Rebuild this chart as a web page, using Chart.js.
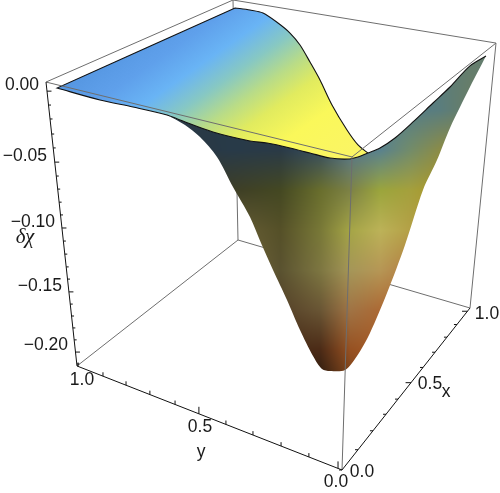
<!DOCTYPE html>
<html><head><meta charset="utf-8">
<style>html,body{margin:0;padding:0;background:#fff}canvas{display:block}</style>
<script src="https://cdn.jsdelivr.net/npm/chart.js@4"></script>
</head><body>
<canvas id="c" width="500" height="493"></canvas>
<script>
// Values. h = horizontal view position (0..1 across the box view), z = delta chi.
const backEdgeH = [.114,.470,.500,.526,.556,.580,.600,.620,.640,.664,.694,.716,.736];
const backEdgeZ = [-.0008,.0608,.0592,.0569,.0492,.0415,.0323,.0192,.0054,-.0138,-.0331,-.0446,-.0508];
const frontEdgeH = [.736,.716,.696,.660,.620,.580,.534,.500,.426,.360,.334,.266,.200,.114];
const frontEdgeZ = [-.0508,-.0538,-.0554,-.0546,-.0508,-.0469,-.0431,-.0415,-.0346,-.0254,-.0215,-.0154,-.01,-.0008];
const wingEdgeH = [.972,.94,.90,.866,.826,.79,.76,.736];
const wingEdgeZ = [.0238,.0162,0,-.0123,-.0269,-.0392,-.0469,-.0508];
const valleyLeftH = [.334,.37,.40,.434,.466,.50,.522,.546,.574,.60,.626,.644,.66,.69];
const valleyLeftZ = [-.0215,-.0292,-.0385,-.0538,-.0769,-.1,-.12,-.1408,-.1638,-.1869,-.2069,-.2169,-.2185,-.2177];
const valleyRightH = [.714,.74,.774,.81,.846,.874,.90,.94,.972];
const valleyRightZ = [-.2069,-.1892,-.1585,-.1215,-.0792,-.0562,-.0315,0,.0238];
// box corners: left/back/right/front, top/bottom
const cornerNames = ['LT','BT','RT','FT','LB','BB','RB','FB'];
const cornerH = [.092,.466,.992,.704,.154,.476,.94,.684];
const cornerZ = [.0038,.0669,.0338,-.0538,-.2146,-.1177,-.17,-.2946];
// tick fractions along the axes
const zTickFractions = [.032,.081,.130,.183,.232,.282,.331,.377,.423,.468,.514,.560,.606,.651,.694,.739,.782,.824,.866,.908,.951,.993];
const zMajorTicks = [.032,.282,.514,.739,.951];
const yTickFractions = [.004,.098,.185,.275,.37,.46,.562,.664,.77,.875,.985];
const yMajorTicks = [.46,.985];
const xTickFractions = [0,.125,.242,.344,.4375,.539,.633,.727,.82,.898,.98];
const xMajorTicks = [.539,.98];
const zTickLabels = ['0.00','\u22120.05','\u22120.10','\u22120.15','\u22120.20'];
const yTickLabels = ['1.0','0.5','0.0'];
const xTickLabels = ['0.0','0.5','1.0'];
const axisTitles = ['y','x','\u03b4\u03c7'];

const W=500,H=493;
const canvas=document.getElementById('c'),ctx=canvas.getContext('2d');
const xy=(hs,zs)=>hs.map((h,i)=>({x:h,y:zs[i]}));
const c=n=>{const i=cornerNames.indexOf(n);return {x:cornerH[i],y:cornerZ[i]}};
const gap={x:NaN,y:NaN};
const segs=list=>{const o=[];list.forEach(s=>{o.push(c(s[0]),c(s[1]),gap)});return o};
function ticks(a,b,fr,maj,dh,dz){const A=c(a),B=c(b),o=[];fr.forEach(f=>{const k=maj.includes(f)?1.8:1,p={x:A.x+(B.x-A.x)*f,y:A.y+(B.y-A.y)*f};
 o.push(p,{x:p.x+dh*k,y:p.y+dz*k},gap)});return o}

// shading of the sheets
const topGrad=ctx.createLinearGradient(60,86,188,268.5);
[[0,'rgb(85,150,225)'],[.154,'rgb(95,160,235)'],[.283,'rgb(105,180,245)'],[.404,'rgb(135,200,195)'],[.522,'rgb(185,220,135)'],[.632,'rgb(225,235,95)'],[.78,'rgb(250,248,90)'],[1,'rgb(250,245,100)']].forEach(s=>topGrad.addColorStop(s[0],s[1]));
const shadeCols=[180,230,280,320,350,380,410,440,470,500];
const shadeRows=[60,110,150,190,230,270,310,350,375];
const shade=[
[[40,58,72],[40,58,72],[40,58,72],[55,75,95],[85,125,145],[85,125,145],[88,128,140],[92,125,120],[100,125,110],[100,125,110]],
[[40,58,72],[40,58,72],[40,58,72],[55,75,95],[85,110,130],[85,130,150],[85,125,135],[90,125,125],[105,125,100],[105,125,100]],
[[42,55,65],[40,58,72],[42,58,70],[55,78,95],[85,118,138],[90,130,140],[115,140,105],[140,140,70],[140,140,70],[140,140,70]],
[[60,60,40],[62,62,38],[68,72,34],[105,110,45],[125,130,70],[155,165,60],[165,160,60],[170,150,40],[170,150,40],[170,150,40]],
[[100,90,50],[105,95,55],[85,80,40],[120,120,55],[165,165,70],[188,178,88],[180,160,70],[185,150,60],[185,150,60],[185,150,60]],
[[125,110,60],[125,110,60],[90,82,48],[125,118,65],[165,150,88],[182,150,85],[180,125,65],[180,125,65],[180,125,65],[180,125,65]],
[[85,65,40],[85,65,40],[85,65,40],[105,85,52],[160,115,68],[172,105,52],[172,105,52],[172,105,52],[172,105,52],[172,105,52]],
[[70,42,22],[70,42,22],[70,42,22],[75,42,22],[150,80,33],[165,90,38],[165,90,38],[165,90,38],[165,90,38],[165,90,38]],
[[50,30,16],[50,30,16],[50,30,16],[50,30,16],[125,68,28],[160,85,35],[160,85,35],[160,85,35],[160,85,35],[160,85,35]]];
function idx(a,v){let i=0;while(i<a.length-2&&v>a[i+1])i++;const t=Math.max(0,Math.min(1,(v-a[i])/(a[i+1]-a[i])));return [i,t]}
const off=document.createElement('canvas');off.width=W;off.height=H;const oc=off.getContext('2d');
const im=oc.createImageData(W,H);
for(let y=0;y<H;y++){const [r,tr]=idx(shadeRows,y);for(let x=0;x<W;x++){const [q,tq]=idx(shadeCols,x),p=(y*W+x)*4;
 for(let k=0;k<3;k++){const a=shade[r][q][k]*(1-tq)+shade[r][q+1][k]*tq,b=shade[r+1][q][k]*(1-tq)+shade[r+1][q+1][k]*tq;im.data[p+k]=a*(1-tr)+b*tr}
 im.data[p+3]=255}}
oc.putImageData(im,0,0);
const frontPattern=ctx.createPattern(off,'no-repeat');

// a repeated vertex keeps a sharp corner when the edges are drawn with line tension
const back=xy(backEdgeH,backEdgeZ);back.splice(1,0,back[1]);
const front=xy(frontEdgeH,frontEdgeZ),wing=xy(wingEdgeH,wingEdgeZ);
const topSheet=[...back,...front];
const frontSheet=[...wing,...front.filter(p=>p.x>=.334),...xy(valleyLeftH,valleyLeftZ),...xy(valleyRightH,valleyRightZ)];
const rim=[...wing,...front,...back];
const gray='#6e6e6e',ink='#111',smooth=.3;
const ds=(label,data,o)=>Object.assign({label,data,showLine:true,pointRadius:0,borderWidth:1,borderColor:gray,fill:false,tension:0,clip:false,spanGaps:false},o);

const textMarks=[
 [zTickLabels[0],39,85,'right'],[zTickLabels[1],47,156,'right'],[zTickLabels[2],55,222,'right'],[zTickLabels[3],62,286,'right'],[zTickLabels[4],68,345,'right'],
 [yTickLabels[0],82,380,'center'],[yTickLabels[1],200,427,'center'],[yTickLabels[2],336,482,'center'],
 [xTickLabels[0],362,472,'center'],[xTickLabels[1],430,384,'center'],[xTickLabels[2],487,314,'center'],
 [axisTitles[0],201,452,'center'],[axisTitles[1],446,392,'center']];
const labelsPlugin={id:'labels',afterDraw(ch){const g=ch.ctx;g.save();g.fillStyle='#1a1a1a';g.textBaseline='middle';g.font='17.5px "Liberation Sans"';
 textMarks.forEach(t=>{g.textAlign=t[3];g.fillText(t[0],t[1],t[2])});
 g.font='italic 21px "Liberation Serif"';g.textAlign='center';g.fillText(axisTitles[2],25,237);g.restore()}};

new Chart(ctx,{type:'scatter',data:{datasets:[
 ds('back box',segs([['BT','BB'],['BB','LB'],['BB','RB'],['LT','BT'],['BT','RT']]),{order:6}),
 ds('top sheet',topSheet,{order:5,fill:'shape',backgroundColor:topGrad,borderWidth:0,tension:smooth}),
 ds('front sheet',frontSheet,{order:4,fill:'shape',backgroundColor:frontPattern,borderWidth:0,tension:smooth}),
 ds('surface rim',rim,{order:3,borderColor:ink,borderWidth:1.1,tension:smooth}),
 ds('front box',segs([['LT','FT'],['FT','RT'],['FT','FB'],['RT','RB']]),{order:2}),
 ds('axes',[...segs([['LT','LB'],['LB','FB'],['FB','RB']]),...ticks('LT','LB',zTickFractions,zMajorTicks,.005,0),...ticks('LB','FB',yTickFractions,yMajorTicks,0,.003),...ticks('FB','RB',xTickFractions,xMajorTicks,-.006,0)],{order:1,borderColor:ink,borderWidth:1})
]},options:{responsive:false,animation:false,layout:{padding:0},
 plugins:{legend:{display:false},tooltip:{enabled:false}},
 scales:{x:{type:'linear',display:false,min:0,max:1},y:{type:'linear',display:false,min:-(493-87)/1300,max:87/1300}}},
 plugins:[labelsPlugin]});
</script></body></html>
